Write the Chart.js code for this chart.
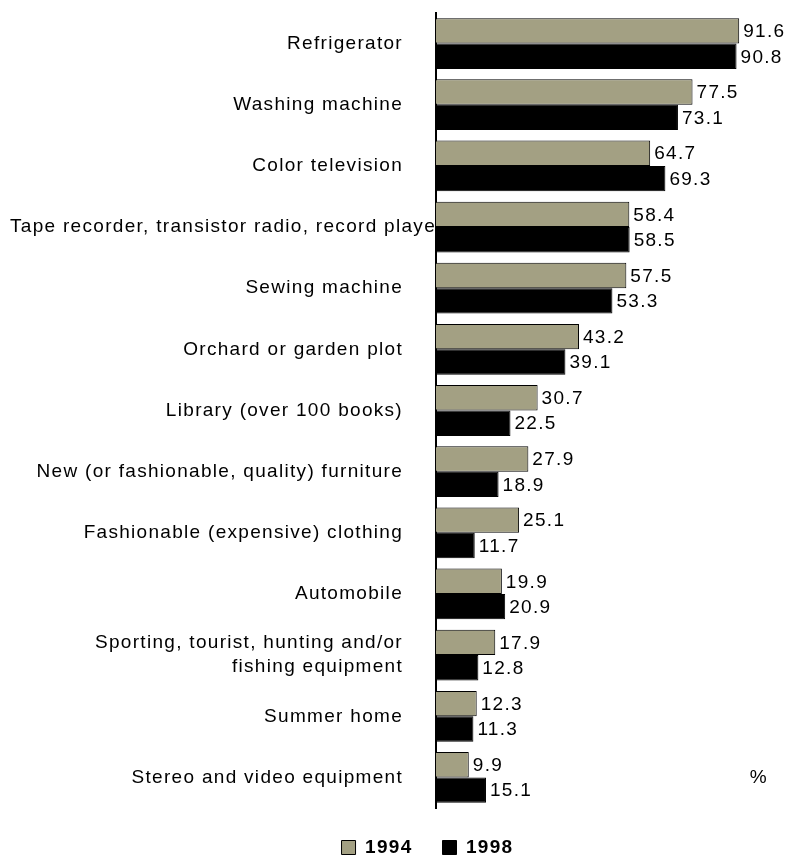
<!DOCTYPE html>
<html>
<head>
<meta charset="utf-8">
<script src="https://cdn.jsdelivr.net/npm/chart.js@4"></script>
<style>
  html, body { margin: 0; padding: 0; background: #fff; }
</style>
</head>
<body>
<canvas id="itemsChart" width="787" height="857"></canvas>
<script>
var categories = [
    'Refrigerator',
    'Washing machine',
    'Color television',
    'Tape recorder, transistor radio, record player',
    'Sewing machine',
    'Orchard or garden plot',
    'Library (over 100 books)',
    'New (or fashionable, quality) furniture',
    'Fashionable (expensive) clothing',
    'Automobile',
    ['Sporting, tourist, hunting and/or', 'fishing equipment'],
    'Summer home',
    'Stereo and video equipment'
];
var values1994 = [91.6, 77.5, 64.7, 58.4, 57.5, 43.2, 30.7, 27.9, 25.1, 19.9, 17.9, 12.3, 9.9];
var values1998 = [90.8, 73.1, 69.3, 58.5, 53.3, 39.1, 22.5, 18.9, 11.7, 20.9, 12.8, 11.3, 15.1];
var seriesNames = ['1994', '1998'];
var unitLabel = '%';

var fontFamily = '"Liberation Sans", Arial, sans-serif';
var textFont = '19px ' + fontFamily;
var spacing = '1.3px';

// category names, value labels and the % sign
var labelsPlugin = {
    id: 'labels',
    beforeUpdate: function(chart) { chart.ctx.letterSpacing = spacing; },
    beforeDraw: function(chart) { chart.ctx.letterSpacing = spacing; },
    afterDraw: function(chart) {
        var ctx = chart.ctx, area = chart.chartArea, yScale = chart.scales.y;
        ctx.save();
        ctx.letterSpacing = spacing;
        ctx.font = textFont;
        ctx.fillStyle = '#000';
        ctx.textBaseline = 'middle';

        categories.forEach(function(label, i) {
            var y = yScale.getPixelForValue(i);
            var lines = Array.isArray(label) ? label : [label];
            var right = area.left - 33;
            lines.forEach(function(line, j) {
                var ly = y + (j - (lines.length - 1) / 2) * 24;
                var w = ctx.measureText(line).width;
                if (right - w < 8) {
                    // too long: starts at the left edge and is cut by the axis
                    ctx.save();
                    ctx.beginPath();
                    ctx.rect(0, ly - 16, area.left - 2, 32);
                    ctx.clip();
                    ctx.textAlign = 'left';
                    ctx.fillText(line, 10, ly);
                    ctx.restore();
                } else {
                    ctx.textAlign = 'right';
                    ctx.fillText(line, right, ly);
                }
            });
        });

        ctx.textAlign = 'left';
        chart.data.datasets.forEach(function(ds, d) {
            chart.getDatasetMeta(d).data.forEach(function(bar, i) {
                ctx.fillText(ds.data[i].toFixed(1), bar.x + 4, bar.y + 1);
            });
        });

        ctx.textAlign = 'right';
        ctx.fillText(unitLabel, area.right + 1, yScale.getPixelForValue(categories.length - 1));
        ctx.restore();
    }
};

var itemsConfig = {
    type: 'bar',
    data: {
        labels: categories,
        datasets: [{
            label: seriesNames[0],
            data: values1994,
            backgroundColor: '#a3a083',
            borderColor: '#000',
            borderWidth: 1
        }, {
            label: seriesNames[1],
            data: values1998,
            backgroundColor: '#000',
            borderColor: '#000',
            borderWidth: 1
        }]
    },
    options: {
        indexAxis: 'y',
        responsive: false,
        animation: false,
        devicePixelRatio: 1,
        events: [],
        layout: {
            padding: { left: 88, right: 20, top: 13, bottom: -10 }
        },
        datasets: {
            bar: { categoryPercentage: 0.83, barPercentage: 1 }
        },
        scales: {
            x: {
                display: false,
                min: 0,
                max: 100
            },
            y: {
                grid: { display: false },
                border: { display: true, color: '#000', width: 2 },
                ticks: { display: false },
                afterFit: function(scale) { scale.width = 348; }
            }
        },
        plugins: {
            legend: {
                position: 'bottom',
                labels: {
                    boxWidth: 14,
                    boxHeight: 14,
                    padding: 30,
                    color: '#000',
                    font: { family: fontFamily, size: 19, weight: 'bold' }
                }
            },
            tooltip: { enabled: false }
        }
    },
    plugins: [labelsPlugin]
};

var ctx = document.getElementById('itemsChart').getContext('2d');
var itemsChart = new Chart(ctx, itemsConfig);
</script>
</body>
</html>
